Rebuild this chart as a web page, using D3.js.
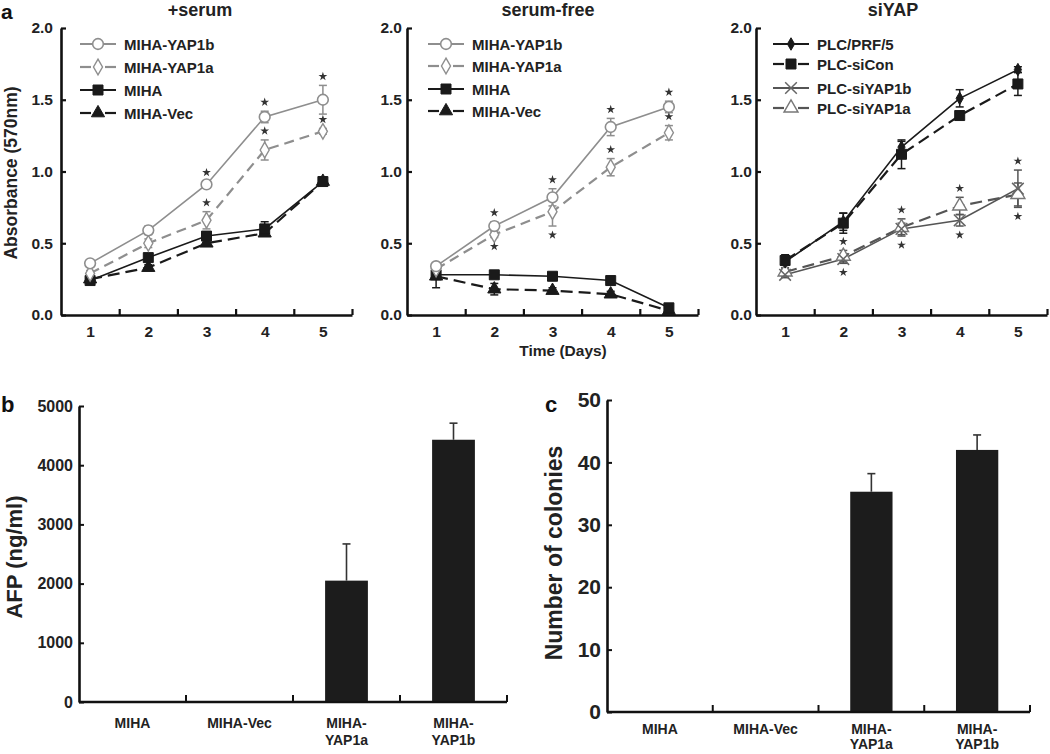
<!DOCTYPE html>
<html>
<head>
<meta charset="utf-8">
<script src="https://cdn.jsdelivr.net/npm/d3@7"></script>
<style>
  html, body { margin: 0; padding: 0; background: #fff; }
  svg { display: block; font-family: "Liberation Sans", Arial, Helvetica, sans-serif; }
</style>
</head>
<body>
<svg id="chart" width="1050" height="754"></svg>
<script>
// ---------------- DATA ----------------
const days = [1, 2, 3, 4, 5];
const yTicksA = [0, 0.5, 1.0, 1.5, 2.0];

// Panel a1: +serum
const serumNames = ["MIHA-YAP1b", "MIHA-YAP1a", "MIHA", "MIHA-Vec"];
const serumYAP1b = [0.36, 0.59, 0.91, 1.38, 1.50];
const serumYAP1bErr = [0.02, 0.03, 0.02, 0.04, 0.10];
const serumYAP1bStars = [0, 0, 1, 1, 1];
const serumYAP1a = [0.29, 0.50, 0.66, 1.15, 1.28];
const serumYAP1aErr = [0.02, 0.03, 0.06, 0.07, 0.02];
const serumYAP1aStars = [0, 0, 1, 1, 1];
const serumMIHA = [0.24, 0.40, 0.55, 0.60, 0.93];
const serumMIHAErr = [0.02, 0.02, 0.03, 0.05, 0.03];
const serumVec = [0.25, 0.33, 0.50, 0.57, 0.93];
const serumVecErr = [0.02, 0.02, 0.02, 0.02, 0.02];

// Panel a2: serum-free
const freeNames = ["MIHA-YAP1b", "MIHA-YAP1a", "MIHA", "MIHA-Vec"];
const freeYAP1b = [0.34, 0.62, 0.82, 1.31, 1.45];
const freeYAP1bErr = [0.02, 0.03, 0.06, 0.06, 0.04];
const freeYAP1bStars = [0, 1, 1, 1, 1];
const freeYAP1a = [0.32, 0.56, 0.72, 1.03, 1.27];
const freeYAP1aErr = [0.02, 0.02, 0.10, 0.06, 0.05];
const freeYAP1aStars = [0, -1, -1, 1, 1];
const freeMIHA = [0.28, 0.28, 0.27, 0.24, 0.05];
const freeMIHAErr = [0.03, 0.02, 0.02, 0.02, 0.01];
const freeVec = [0.27, 0.18, 0.17, 0.145, 0.03];
const freeVecErr = [0.08, 0.04, 0.02, 0.02, 0.01];

// Panel a3: siYAP
const siNames = ["PLC/PRF/5", "PLC-siCon", "PLC-siYAP1b", "PLC-siYAP1a"];
const siPLC = [0.37, 0.65, 1.17, 1.51, 1.71];
const siPLCErr = [0.05, 0.06, 0.04, 0.06, 0.02];
const siCon = [0.38, 0.64, 1.12, 1.39, 1.61];
const siConErr = [0.03, 0.07, 0.10, 0.02, 0.08];
const siYAP1b = [0.28, 0.39, 0.60, 0.66, 0.88];
const siYAP1bErr = [0.02, 0.03, 0.04, 0.04, 0.13];
const siYAP1bStars = [0, -1, -1, -1, -1];
const siYAP1a = [0.30, 0.41, 0.61, 0.76, 0.84];
const siYAP1aErr = [0.03, 0.04, 0.06, 0.06, 0.08];
const siYAP1aStars = [0, 1, 1, 1, 1];

// Panel b: AFP
const barCategories = ["MIHA", "MIHA-Vec", "MIHA-YAP1a", "MIHA-YAP1b"];
const barLabelLines = [["MIHA"], ["MIHA-Vec"], ["MIHA-", "YAP1a"], ["MIHA-", "YAP1b"]];
const afpValues = [0, 0, 2050, 4430];
const afpErr = [0, 0, 620, 280];
const afpTicks = [0, 1000, 2000, 3000, 4000, 5000];

// Panel c: colonies
const colonyValues = [0, 0, 35.3, 42.0];
const colonyErr = [0, 0, 2.9, 2.4];
const colonyTicks = [0, 10, 20, 30, 40, 50];

// ---------------- DRAWING ----------------
const svg = d3.select("#chart");
const GRAY = "#8e8e8e";
const BLACK = "#1a1a1a";

const markerDefs = {
  circle:      { type: d3.symbolCircle,   size: 90, fill: "#fff", stroke: GRAY, sw: 1.6 },
  diamond:     { type: d3.symbolDiamond,  size: 70, fill: "#fff", stroke: GRAY, sw: 1.4 },
  square:      { type: d3.symbolSquare,   size: 100, fill: BLACK, stroke: BLACK, sw: 1 },
  triangle:    { type: d3.symbolTriangle, size: 75, fill: BLACK, stroke: BLACK, sw: 1 },
  smalldiamond:{ type: d3.symbolDiamond,  size: 45, fill: BLACK, stroke: BLACK, sw: 1 },
  times:       { type: d3.symbolTimes,    size: 90, fill: "none", stroke: "#666", sw: 1.5 },
  opentri:     { type: d3.symbolTriangle, size: 85, fill: "#fff", stroke: "#777", sw: 1.4 }
};

function drawMarker(g, kind, x, y) {
  const m = markerDefs[kind];
  g.append("path")
    .attr("d", d3.symbol().type(m.type).size(m.size)())
    .attr("transform", `translate(${x},${y})`)
    .attr("fill", m.fill).attr("stroke", m.stroke).attr("stroke-width", m.sw);
}

function linePanel(opt) {
  const x = d3.scaleLinear().domain([0.5, 5.5]).range([opt.x0, opt.x1]);
  const y = d3.scaleLinear().domain([0, 2]).range([315, 28]);
  const g = svg.append("g");

  // axes
  const yAxis = d3.axisLeft(y).tickValues(yTicksA).tickFormat(d3.format(".1f"))
    .tickSizeInner(-5).tickSizeOuter(0).tickPadding(opt.labelGap);
  const ya = g.append("g").attr("transform", `translate(${opt.x0},0)`).call(yAxis);
  ya.select(".domain").attr("stroke", "#111").attr("stroke-width", 2.6);
  ya.selectAll(".tick line").attr("stroke", "#111").attr("stroke-width", 2.2);
  ya.selectAll(".tick text").attr("font-size", 15.5).attr("font-weight", "bold").attr("fill", "#222");

  const xTicksAxis = d3.axisBottom(x).tickValues([1.5, 2.5, 3.5, 4.5, 5.5])
    .tickFormat("").tickSizeInner(-6).tickSizeOuter(0);
  const xa = g.append("g").attr("transform", "translate(0,315)").call(xTicksAxis);
  xa.select(".domain").attr("stroke", "#111").attr("stroke-width", 2.6);
  xa.selectAll(".tick line").attr("stroke", "#111").attr("stroke-width", 2.2);

  const xLab = d3.axisBottom(x).tickValues(days).tickFormat(d3.format("d")).tickSize(0).tickPadding(11);
  const xl = g.append("g").attr("transform", "translate(0,315)").call(xLab);
  xl.select(".domain").remove();
  xl.selectAll(".tick text").attr("font-size", 15.5).attr("font-weight", "bold").attr("fill", "#222");

  // title
  g.append("text").attr("x", opt.titleX).attr("y", 16).attr("text-anchor", "middle")
    .attr("font-size", 18).attr("font-weight", "bold").attr("fill", "#222").text(opt.title);

  const line = d3.line().x((d, i) => x(days[i])).y(d => y(d));

  // lines
  opt.series.forEach(s => {
    g.append("path").attr("d", line(s.values)).attr("fill", "none")
      .attr("stroke", s.color).attr("stroke-width", s.dash ? 2.2 : 1.6)
      .attr("stroke-dasharray", s.dash || null);
  });
  // error bars
  opt.series.forEach(s => {
    s.values.forEach((v, i) => {
      const e = s.errors[i];
      const cx = x(days[i]);
      g.append("line").attr("x1", cx).attr("x2", cx).attr("y1", y(v - e)).attr("y2", y(v + e))
        .attr("stroke", s.color).attr("stroke-width", 1.5);
      [v - e, v + e].forEach(t => {
        g.append("line").attr("x1", cx - 4).attr("x2", cx + 4).attr("y1", y(t)).attr("y2", y(t))
          .attr("stroke", s.color).attr("stroke-width", 1.5);
      });
    });
  });
  // markers
  opt.series.slice().reverse().forEach(s => {
    s.values.forEach((v, i) => drawMarker(g, s.marker, x(days[i]), y(v)));
  });
  // stars
  const star = d3.symbol().type(d3.symbolStar).size(24)();
  const starred = opt.series.filter(s => s.stars);
  starred.forEach(s => {
    s.stars.forEach((st, i) => {
      if (!st) return;
      const group = opt.groupStars ? starred : [s];
      let sy;
      if (st > 0) sy = d3.min(group, q => y(q.values[i] + q.errors[i])) - 9;
      else sy = d3.max(group, q => y(q.values[i] - q.errors[i])) + 9;
      g.append("path").attr("d", star).attr("transform", `translate(${x(days[i])},${sy})`).attr("fill", "#333");
    });
  });

  // legend
  opt.series.forEach((s, i) => {
    const ly = opt.legY[i];
    const lx0 = opt.legX, lx1 = opt.legX + 36, lm = opt.legX + 18;
    if (s.dash) {
      [[lx0, lx0 + 11], [lx1 - 11, lx1]].forEach(p => {
        g.append("line").attr("x1", p[0]).attr("x2", p[1]).attr("y1", ly).attr("y2", ly)
          .attr("stroke", s.color).attr("stroke-width", 2.2);
      });
    } else {
      g.append("line").attr("x1", lx0).attr("x2", lx1).attr("y1", ly).attr("y2", ly)
        .attr("stroke", s.color).attr("stroke-width", 1.8);
    }
    drawMarker(g, s.marker, lm, ly);
    g.append("text").attr("x", lx1 + 8).attr("y", ly + 5.5).attr("font-size", 15)
      .attr("font-weight", "bold").attr("fill", "#222").text(s.name);
  });
  return g;
}

// Panel a1
linePanel({
  x0: 61, x1: 352, title: "+serum", titleX: 200, labelGap: 8, legX: 80, legY: [44, 67, 90, 113],
  series: [
    { name: serumNames[0], values: serumYAP1b, errors: serumYAP1bErr, stars: serumYAP1bStars, color: GRAY, marker: "circle" },
    { name: serumNames[1], values: serumYAP1a, errors: serumYAP1aErr, stars: serumYAP1aStars, color: GRAY, dash: "10,6", marker: "diamond" },
    { name: serumNames[2], values: serumMIHA, errors: serumMIHAErr, color: BLACK, marker: "square" },
    { name: serumNames[3], values: serumVec, errors: serumVecErr, color: BLACK, dash: "12,6", marker: "triangle" }
  ]
});
// Panel a2
linePanel({
  x0: 407, x1: 698, title: "serum-free", titleX: 548, labelGap: 5, legX: 428, legY: [44, 66, 89, 111],
  series: [
    { name: freeNames[0], values: freeYAP1b, errors: freeYAP1bErr, stars: freeYAP1bStars, color: GRAY, marker: "circle" },
    { name: freeNames[1], values: freeYAP1a, errors: freeYAP1aErr, stars: freeYAP1aStars, color: GRAY, dash: "10,6", marker: "diamond" },
    { name: freeNames[2], values: freeMIHA, errors: freeMIHAErr, color: BLACK, marker: "square" },
    { name: freeNames[3], values: freeVec, errors: freeVecErr, color: BLACK, dash: "12,6", marker: "triangle" }
  ]
});
// Panel a3
linePanel({
  x0: 756, x1: 1047, title: "siYAP", titleX: 893, labelGap: 4, legX: 773, legY: [44, 64, 88, 108],
  groupStars: true,
  series: [
    { name: siNames[0], values: siPLC, errors: siPLCErr, color: BLACK, marker: "smalldiamond" },
    { name: siNames[1], values: siCon, errors: siConErr, color: BLACK, dash: "12,6", marker: "square" },
    { name: siNames[2], values: siYAP1b, errors: siYAP1bErr, stars: siYAP1bStars, color: "#555", marker: "times" },
    { name: siNames[3], values: siYAP1a, errors: siYAP1aErr, stars: siYAP1aStars, color: "#555", dash: "12,6", marker: "opentri" }
  ]
});

// panel a labels
svg.append("text").attr("x", 1).attr("y", 19).attr("font-size", 21).attr("font-weight", "bold").attr("fill", "#111").text("a");
svg.append("text").attr("transform", "translate(17,173) rotate(-90)").attr("text-anchor", "middle")
  .attr("font-size", 17.5).attr("font-weight", "bold").attr("fill", "#222").text("Absorbance (570nm)");
svg.append("text").attr("x", 563).attr("y", 356).attr("text-anchor", "middle")
  .attr("font-size", 15.5).attr("font-weight", "bold").attr("fill", "#222").text("Time (Days)");

// ---------------- BAR PANELS ----------------
function barPanel(opt) {
  const g = svg.append("g");
  const x = d3.scaleBand().domain(barCategories).range([opt.x0, opt.x1]).paddingInner(0.6).paddingOuter(0.3);
  const y = d3.scaleLinear().domain([0, opt.max]).range([opt.yBot, opt.yTop]);

  const ya = g.append("g").attr("transform", `translate(${opt.x0},0)`)
    .call(d3.axisLeft(y).tickValues(opt.ticks).tickFormat(d3.format("d")).tickSizeInner(-5).tickSizeOuter(0).tickPadding(opt.labelGap));
  ya.select(".domain").attr("stroke", "#111").attr("stroke-width", 2.6);
  ya.selectAll(".tick line").attr("stroke", "#111").attr("stroke-width", 2);
  ya.selectAll(".tick text").attr("font-size", opt.tickFont).attr("font-weight", "bold").attr("fill", "#222");

  // bars
  g.selectAll("rect.bar").data(barCategories).enter().append("rect")
    .attr("x", d => x(d)).attr("width", x.bandwidth())
    .attr("y", (d, i) => y(opt.values[i])).attr("height", (d, i) => y(0) - y(opt.values[i]))
    .attr("fill", "#1c1c1c");
  // error bars (upper only)
  barCategories.forEach((c, i) => {
    if (!opt.errors[i]) return;
    const cx = x(c) + x.bandwidth() / 2;
    const top = y(opt.values[i] + opt.errors[i]);
    g.append("line").attr("x1", cx).attr("x2", cx).attr("y1", y(opt.values[i])).attr("y2", top)
      .attr("stroke", "#333").attr("stroke-width", 1.6);
    g.append("line").attr("x1", cx - 4).attr("x2", cx + 4).attr("y1", top).attr("y2", top)
      .attr("stroke", "#333").attr("stroke-width", 1.6);
  });

  // x axis line + boundary ticks
  const bounds = barCategories.map(c => x(c) + x.bandwidth() / 2 + x.step() / 2);
  g.append("line").attr("x1", opt.x0).attr("x2", opt.x1).attr("y1", opt.yBot).attr("y2", opt.yBot)
    .attr("stroke", "#111").attr("stroke-width", 2.6);
  g.selectAll("line.bt").data(bounds).enter().append("line")
    .attr("x1", d => d).attr("x2", d => d).attr("y1", opt.yBot).attr("y2", opt.yBot - 7)
    .attr("stroke", "#111").attr("stroke-width", 2);

  // category labels
  barCategories.forEach((c, i) => {
    const t = g.append("text").attr("x", x(c) + x.bandwidth() / 2).attr("y", opt.labelY)
      .attr("text-anchor", "middle").attr("font-size", 14).attr("font-weight", "bold").attr("fill", "#222");
    barLabelLines[i].forEach((ln, j) => {
      t.append("tspan").attr("x", x(c) + x.bandwidth() / 2).attr("dy", j === 0 ? 0 : opt.lineGap).text(ln);
    });
  });

  // y label
  g.append("text").attr("transform", `translate(${opt.yLabelX},${opt.yLabelY}) rotate(-90)`)
    .attr("text-anchor", "middle").attr("font-size", opt.yLabelFont).attr("fill", "#222")
    .attr("font-weight", "bold").text(opt.yLabel);
  // panel letter
  g.append("text").attr("x", opt.letterX).attr("y", opt.letterY).attr("font-size", 22)
    .attr("font-weight", "bold").attr("fill", "#111").text(opt.letter);
}

barPanel({
  x0: 79, x1: 507, yTop: 406, yBot: 702, max: 5000, ticks: afpTicks,
  values: afpValues, errors: afpErr, tickFont: 16, labelGap: 6,
  labelY: 728, lineGap: 17, yLabel: "AFP (ng/ml)", yLabelX: 22, yLabelY: 557, yLabelFont: 22,
  letter: "b", letterX: 1, letterY: 412
});
barPanel({
  x0: 607, x1: 1030, yTop: 400, yBot: 712, max: 50, ticks: colonyTicks,
  values: colonyValues, errors: colonyErr, tickFont: 21, labelGap: 6,
  labelY: 734, lineGap: 15, yLabel: "Number of colonies", yLabelX: 562, yLabelY: 553, yLabelFont: 23,
  letter: "c", letterX: 545, letterY: 412
});
</script>
</body>
</html>
